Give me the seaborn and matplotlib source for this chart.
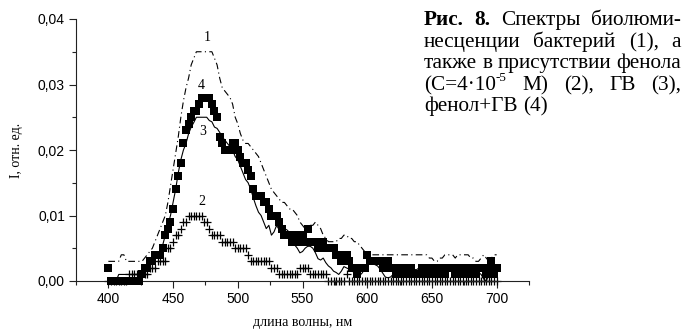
import numpy as np
import pandas as pd
import matplotlib
matplotlib.use("Agg")
import matplotlib.pyplot as plt
import seaborn as sns
from matplotlib.ticker import MultipleLocator, FuncFormatter

# ---------------- data (intensity in units of 0.001 rel. units) ----------------
wavelength = list(range(400, 701, 2))

# curve 1: bacteria (dash-dot)
I1_milli = [
    3, 3, 3, 3, 3, 4, 4, 3, 3, 3,
    3, 3, 3, 3, 3.5, 4, 4.5, 5, 6, 7,
    8, 9, 10, 12, 14.5, 17, 19.5, 22, 25, 27.5,
    29.5, 31, 33, 34, 35, 35, 35, 35, 35, 35,
    35, 34, 33, 31, 29.5, 29, 28.5, 28, 27, 25,
    24, 22.5, 21.5, 21, 21, 20.5, 20, 19.5, 19, 18,
    17, 16, 15, 14, 13.5, 13, 12.5, 12, 12, 11.5,
    11, 11, 10.5, 10, 9, 8.5, 8, 8, 8.5, 8.5,
    9, 8.5, 8, 7, 6.5, 6, 6, 6, 6, 6.5,
    6.5, 7, 7, 6.5, 6.5, 6, 6, 5.5, 5, 4.5,
    4.2, 4, 4, 4, 4, 4, 4, 4, 4, 4,
    4, 4, 4, 4, 4, 4, 4, 4, 4, 4,
    4, 4, 4, 4, 3.5, 3.5, 3, 3, 3.5, 3.5,
    4, 4, 4, 4, 3.5, 4, 4, 4, 4, 4,
    3.5, 3.5, 3, 3, 3.5, 4, 3.5, 3, 3.5, 4,
    4,
]

# curve 2: phenol (+ markers)
I2_milli = [
    0, 0, 0, 0, 0, 0, 0, 0, 1, 1,
    1, 1, 1, 1, 1, 1, 2, 2, 2, 3,
    3, 3, 3, 5, 5, 6, 7, 7, 8, 9,
    9, 10, 10, 10, 10, 10, 10, 9, 9, 8,
    7, 7, 7, 7, 6, 6, 6, 6, 6, 5,
    5, 5, 5, 5, 4, 3, 3, 3, 3, 3,
    3, 3, 3, 2, 2, 2, 1, 1, 1, 1,
    1, 1, 1, 1, 2, 2, 2, 2, 1, 1,
    1, 1, 1, 1, 1, 0, 0, 0, 0, 0,
    0, 0, 1, 0, 0, 0, 0, 0, 0, 0,
    0, 0, 0, 0, 0, 0, 0, 0, 0, 0,
    0, 0, 0, 0, 0, 0, 0, 0, 0, 0,
    0, 0, 0, 0, 0, 0, 0, 0, 0, 0,
    0, 0, 0, 0, 0, 0, 0, 0, 0, 0,
    0, 0, 0, 0, 0, 0, 0, 0, 0, 0,
    0,
]

# curve 3: GV (solid line)
I3_milli = [
    0, 0, 0, 0, 1, 1, 1, 1, 1, 1,
    1, 1, 1, 1, 2, 2, 3, 3, 4, 4,
    4.5, 5.5, 7, 8.5, 10, 12, 14, 16.5, 18.5, 20,
    21, 22.5, 23.5, 24.2, 25, 25, 25, 25, 25, 24.5,
    24.3, 23.5, 23.3, 22.7, 22, 21.5, 21, 20.5, 20, 19,
    18.5, 17.5, 16.5, 15.5, 15, 14, 12.7, 11.5, 10.5, 10,
    9, 8, 8.5, 7, 7.5, 8.5, 7.8, 8.3, 8, 7.8,
    7.4, 6.5, 5.5, 5, 4.3, 4.5, 5, 5.3, 5.3, 5,
    4.3, 3.4, 3.2, 3.5, 2.8, 2.3, 2, 1.5, 1.3, 1,
    1.5, 2.2, 2, 1.8, 2, 1, 0.6, 0.8, 1.2, 1.8,
    2.4, 2.6, 2.7, 2.5, 2.3, 1.8, 1.2, 0.6, 0.5, 0.6,
    1, 1.3, 1.7, 2, 1.8, 1.7, 1.8, 2, 1.8, 1.7,
    2, 1.8, 1.5, 1.4, 1.3, 1.2, 1.2, 1.3, 1.5, 1.7,
    1.7, 1.8, 1.6, 1.5, 1.3, 1, 1.2, 1.5, 1.8, 1.7,
    1.5, 1.3, 1.2, 1.3, 1, 0.3, 0, 1, 2, 1.3,
    1,
]

# curve 4: phenol + GV (filled squares)
I4_milli = [
    2, 0, 0, 0, 0, 0, 0, 0, 0, 0,
    0, 0, 0, 1, 2, 2, 3, 3, 4, 4,
    4, 5, 7, 8, 9, 11, 14, 16, 18, 21,
    23, 24, 25, 26, 26, 27, 28, 28, 28, 28,
    27, 26, 25, 22, 21, 20, 20, 20, 21, 21,
    20, 19, 18, 18, 17, 16, 14, 13, 13, 13,
    12, 12, 11, 10, 10, 10, 9, 8, 7, 7,
    7, 6, 7, 6, 6, 7, 6, 8, 6, 6,
    6, 5, 5, 6, 5, 5, 5, 5, 4, 4,
    3, 4, 4, 3, 2, 2, 1, 2, 2, 2,
    4, 3, 3, 3, 3, 3, 2, 2, 3, 2,
    2, 1, 1, 2, 1, 2, 1, 2, 1, 1,
    1, 2, 2, 1, 2, 2, 1, 1, 2, 2,
    1, 2, 2, 2, 1, 1, 2, 2, 1, 1,
    2, 2, 1, 2, 2, 2, 1, 2, 3, 1,
    2,
]

curve_labels = ["1", "2", "3", "4"]
label_x = [476.5, 472.0, 472.7, 472.0]
label_y = [0.0371, 0.0121, 0.0228, 0.0299]

x_ticks = [400, 450, 500, 550, 600, 650, 700]
y_ticks = [0.00, 0.01, 0.02, 0.03, 0.04]

x_label = "длина волны, нм"
y_label = "I, отн. ед."

# ---------------- style ----------------
sns.set_style("ticks")
plt.rcParams["font.family"] = ["Liberation Sans", "DejaVu Sans"]
plt.rcParams["text.color"] = "black"
plt.rcParams["axes.labelcolor"] = "black"
SERIF = ["Liberation Serif", "DejaVu Serif"]

W, H = 688, 329
fig = plt.figure(figsize=(W / 100, H / 100), dpi=100)
fig.patch.set_facecolor("white")
ax = fig.add_axes([76 / W, 1 - 281 / H, (529 - 76) / W, (281 - 19) / H])
ax.set_facecolor("white")

df = pd.DataFrame({
    "wl": wavelength,
    "I1": np.array(I1_milli) / 1000.0,
    "I2": np.array(I2_milli) / 1000.0,
    "I3": np.array(I3_milli) / 1000.0,
    "I4": np.array(I4_milli) / 1000.0,
})

sns.lineplot(data=df, x="wl", y="I1", ax=ax, color="black", linewidth=0.8,
             estimator=None, sort=False, clip_on=False, zorder=2)
ax.lines[-1].set_linestyle((0, (6, 3, 1, 3)))
sns.lineplot(data=df, x="wl", y="I3", ax=ax, color="black", linewidth=0.8,
             estimator=None, sort=False, clip_on=False, zorder=2)
sns.scatterplot(data=df, x="wl", y="I2", ax=ax, marker="+", s=36, color="black",
                linewidth=0.9, clip_on=False, zorder=2.5)
sns.scatterplot(data=df, x="wl", y="I4", ax=ax, marker="s", s=28, color="black",
                edgecolor="black", linewidth=0, clip_on=False, zorder=3)

for t, lx, ly in zip(curve_labels, label_x, label_y):
    ax.text(lx, ly, t, ha="center", va="center", fontsize=10, family=SERIF, color="black")

ax.set_xlim(375, 725)
ax.set_ylim(0, 0.04)
ax.set_xticks(x_ticks)
ax.set_yticks(y_ticks)
ax.xaxis.set_minor_locator(MultipleLocator(25))
ax.yaxis.set_minor_locator(MultipleLocator(0.005))
ax.yaxis.set_major_formatter(FuncFormatter(lambda v, p: f"{v:.2f}".replace(".", ",")))
ax.xaxis.set_major_formatter(FuncFormatter(lambda v, p: f"{int(round(v))}"))

sns.despine(ax=ax)
for s in ["left", "bottom"]:
    ax.spines[s].set_color("#222222")
    ax.spines[s].set_linewidth(0.8)
ax.tick_params(which="major", direction="out", length=5, width=0.8, colors="#222222",
               labelcolor="black", labelsize=10, pad=3)
ax.tick_params(which="minor", direction="out", length=3, width=0.8, colors="#222222")

ax.set_xlabel(x_label, family=SERIF, fontsize=10)
ax.set_ylabel(y_label, family=SERIF, fontsize=10)
ax.xaxis.set_label_coords(0.5, -0.135)
ax.yaxis.set_label_coords(-0.118, 0.5)

# ---------------- justified caption ----------------
caption_lines = [
    [[("Рис.", 1.0, "bold", 0)], [("8.", 1.0, "bold", 0)], [("Спектры", 1.0, "normal", 0)],
     [("биолюми-", 1.0, "normal", 0)]],
    [[("несценции", 1.0, "normal", 0)], [("бактерий", 1.0, "normal", 0)],
     [("(1),", 1.0, "normal", 0)], [("а", 1.0, "normal", 0)]],
    [[("также", 1.0, "normal", 0)], [("в", 1.0, "normal", 0)],
     [("присутствии", 1.0, "normal", 0)], [("фенола", 1.0, "normal", 0)]],
    [[("(С=4·10", 1.0, "normal", 0), ("-5", 0.62, "normal", 0.42)], [("М)", 1.0, "normal", 0)],
     [("(2),", 1.0, "normal", 0)], [("ГВ", 1.0, "normal", 0)], [("(3),", 1.0, "normal", 0)]],
    [[("фенол+ГВ", 1.0, "normal", 0)], [("(4)", 1.0, "normal", 0)]],
]
justify = [True, True, True, True, False]
baselines = [25, 47, 68, 90, 111]
cap_left, cap_right = 424, 681

fig.canvas.draw()
renderer = fig.canvas.get_renderer()


def seg_width(txt, size, weight):
    t = fig.text(0, 0, txt, fontsize=size, fontweight=weight, family=SERIF)
    w = t.get_window_extent(renderer).width
    t.remove()
    return w


def word_width(word, fs):
    return sum(seg_width(s[0], fs * s[1], s[2]) for s in word)


# fit font size so that line 3 (natural spacing) fills the column
base_fs = 13.0
sp = seg_width("a a", base_fs, "normal") - seg_width("aa", base_fs, "normal")
nat = sum(word_width(w, base_fs) for w in caption_lines[2]) + sp * (len(caption_lines[2]) - 1)
FS = base_fs * (cap_right - cap_left) / nat

space_w = seg_width("a a", FS, "normal") - seg_width("aa", FS, "normal")
for words, just, bl in zip(caption_lines, justify, baselines):
    widths = [word_width(w, FS) for w in words]
    if just and len(words) > 1:
        gap = (cap_right - cap_left - sum(widths)) / (len(words) - 1)
    else:
        gap = space_w
    x = cap_left
    for w, ww in zip(words, widths):
        xc = x
        for txt, sc, wt, rise in w:
            fig.text(xc / W, 1 - (bl - rise * FS * 100 / 72) / H, txt, fontsize=FS * sc,
                     fontweight=wt, family=SERIF, ha="left", va="baseline", color="black")
            xc += seg_width(txt, FS * sc, wt)
        x += ww + gap

fig.savefig("out.png", dpi=100, facecolor="white")
